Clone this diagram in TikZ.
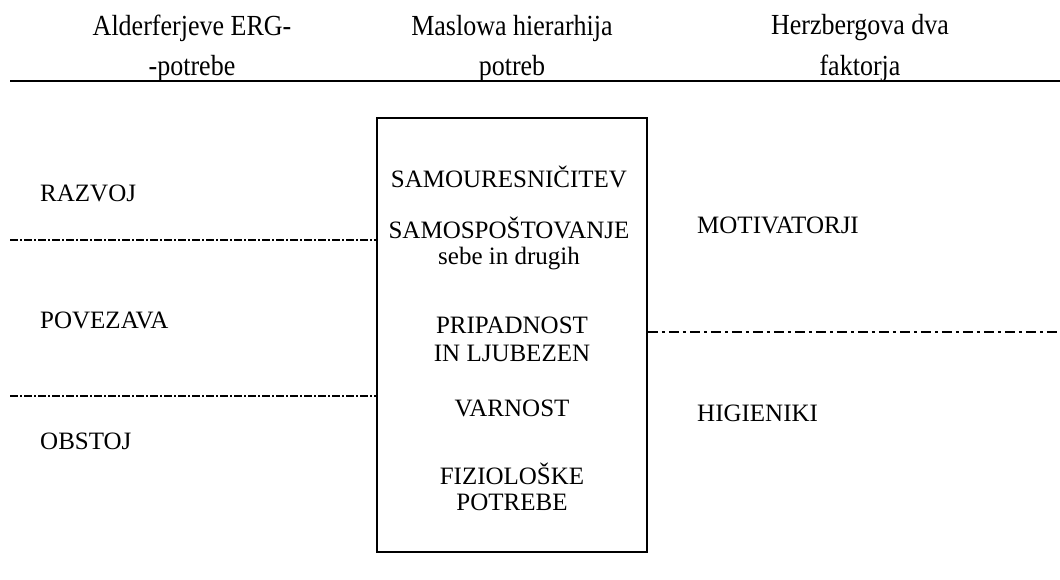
\documentclass[tikz,border=0pt]{standalone}
\usepackage{fontspec}
\setmainfont{Liberation Serif}
\begin{document}
\begin{tikzpicture}[x=1pt,y=-1pt,
  txt/.style={inner sep=0pt,font=\fontsize{25}{29}\selectfont},
  head/.style={inner sep=0pt,font=\fontsize{26}{30}\selectfont,yscale=1.12},
  lbl/.style={txt,anchor=west},
  mid/.style={txt,align=center},
  leftsep/.style={line width=1.2pt,dash pattern=on 8pt off 2pt on 2pt off 2pt},
  rightsep/.style={line width=1.2pt,dash pattern=on 10pt off 4pt on 3pt off 4pt}]
\useasboundingbox (0,0) rectangle (1060,579);
% column headings
\node[head] (h1a) at (192,28) {Alderferjeve ERG-};
\node[head] (h1b) at (192,68) {-potrebe};
\node[head] (h2a) at (512,28) {Maslowa hierarhija};
\node[head] (h2b) at (512,68) {potreb};
\node[head] (h3a) at (860,28) {Herzbergova dva};
\node[head] (h3b) at (860,68) {faktorja};
\coordinate (rl) at (10,81);
\coordinate (rr) at (1060,81);
\draw[line width=1.8pt] (rl) -- (rr);
% Maslow's pyramid box
\node[draw,line width=1.8pt,minimum width=270pt,minimum height=434pt,inner sep=0pt] (box) at (512,335) {};
\node[mid] (m1) at (509,177) {SAMOURESNIČITEV};
\node[mid] (m2) at (509,228) {SAMOSPOŠTOVANJE};
\node[mid] (m2b) at (509,259) {sebe in drugih};
\node[mid] (m3) at (512,325) {PRIPADNOST};
\node[mid] (m3b) at (512,353) {IN LJUBEZEN};
\node[mid] (m4) at (512,408) {VARNOST};
\node[mid] (m5) at (512,474) {FIZIOLOŠKE};
\node[mid] (m5b) at (512,502) {POTREBE};
% ERG levels
\node[lbl] (e1) at (40,193) {RAZVOJ};
\node[lbl] (e2) at (40,320) {POVEZAVA};
\node[lbl] (e3) at (40,441) {OBSTOJ};
\coordinate (l1) at (10,240);
\coordinate (l2) at (10,396);
\draw[leftsep] (l1) -- (l1 -| box.west);
\draw[leftsep] (l2) -- (l2 -| box.west);
% Herzberg factors
\node[lbl] (f1) at (697,225) {MOTIVATORJI};
\node[lbl] (f2) at (697,413) {HIGIENIKI};
\coordinate (r1) at (1060,332);
\draw[rightsep] (r1 -| box.east) -- (r1);
\end{tikzpicture}
\end{document}
